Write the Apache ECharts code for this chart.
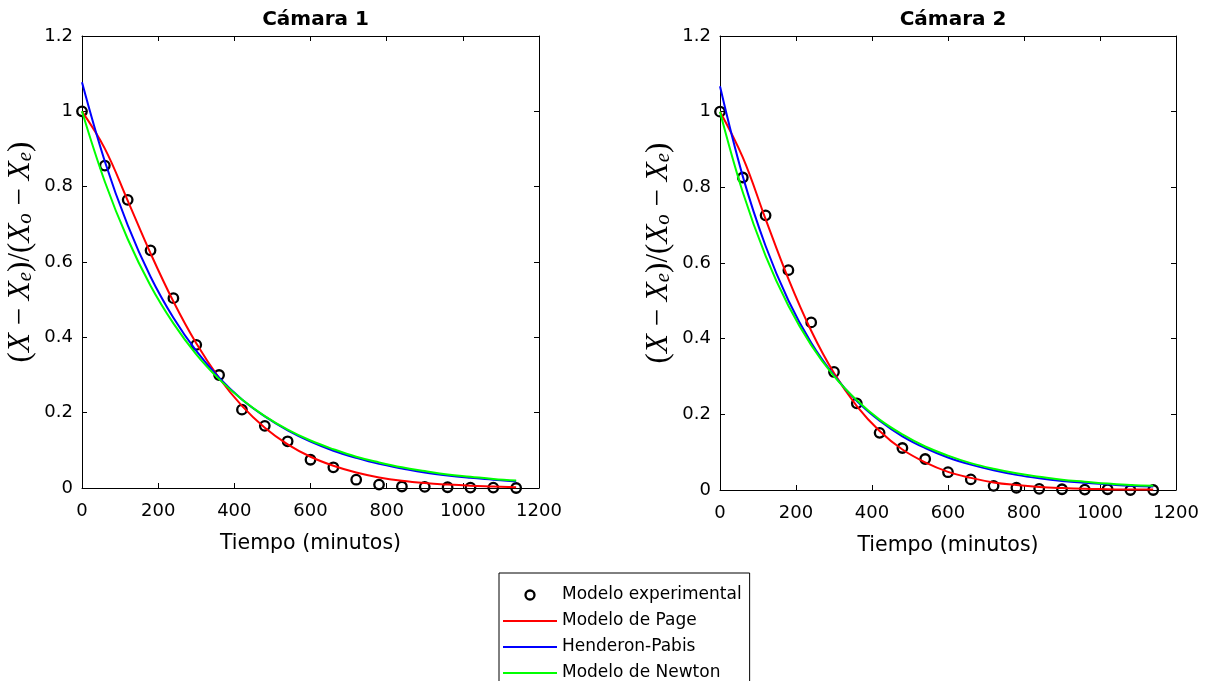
<!DOCTYPE html>
<html>
<head>
<meta charset="utf-8">
<script src="https://cdn.jsdelivr.net/npm/echarts@6/dist/echarts.min.js"></script>
<style>
html,body{margin:0;padding:0;background:#fff;}
#chart{width:1207px;height:681px;}
</style>
</head>
<body>
<div id="chart"></div>
<script>
// ---- data ----
const titles = ['Cámara 1', 'Cámara 2'];
const legendNames = ['Modelo experimental', 'Modelo de Page', 'Henderon-Pabis', 'Modelo de Newton'];
const xTicks = [0, 200, 400, 600, 800, 1000, 1200];
const yTicks = [0, 0.2, 0.4, 0.6, 0.8, 1, 1.2];

const expTime = [0, 60, 120, 180, 240, 300, 360, 420, 480, 540, 600, 660, 720, 780, 840, 900, 960, 1020, 1080, 1140];
const exp1 = [1.000, 0.856, 0.765, 0.631, 0.504, 0.380, 0.300, 0.208, 0.165, 0.124, 0.075, 0.055, 0.022, 0.009, 0.004, 0.003, 0.002, 0.001, 0.001, 0.000];
const exp2 = [1.000, 0.826, 0.726, 0.581, 0.443, 0.312, 0.229, 0.151, 0.111, 0.082, 0.047, 0.028, 0.011, 0.006, 0.003, 0.002, 0.001, 0.002, 0.000, 0.000];

const curveTime = [0, 60, 120, 180, 240, 300, 360, 420, 480, 540, 600, 660, 720, 780, 840, 900, 960, 1020, 1080, 1140];
const page1   = [1.000, 0.901, 0.763, 0.623, 0.495, 0.384, 0.292, 0.218, 0.160, 0.116, 0.083, 0.059, 0.041, 0.028, 0.019, 0.013, 0.009, 0.006, 0.004, 0.002];
const hp1     = [1.077, 0.867, 0.698, 0.561, 0.452, 0.364, 0.293, 0.235, 0.190, 0.153, 0.123, 0.099, 0.080, 0.064, 0.052, 0.041, 0.033, 0.027, 0.022, 0.017];
const newton1 = [1.000, 0.813, 0.661, 0.537, 0.437, 0.355, 0.289, 0.235, 0.191, 0.155, 0.126, 0.103, 0.083, 0.068, 0.055, 0.045, 0.036, 0.030, 0.024, 0.020];
const page2   = [1.000, 0.879, 0.716, 0.558, 0.421, 0.309, 0.222, 0.156, 0.107, 0.073, 0.048, 0.032, 0.020, 0.013, 0.008, 0.005, 0.003, 0.002, 0.001, 0.001];
const hp2     = [1.067, 0.829, 0.645, 0.501, 0.389, 0.303, 0.235, 0.183, 0.142, 0.111, 0.086, 0.067, 0.052, 0.040, 0.031, 0.024, 0.019, 0.015, 0.011, 0.009];
const newton2 = [1.000, 0.787, 0.619, 0.487, 0.383, 0.301, 0.237, 0.186, 0.147, 0.115, 0.091, 0.071, 0.056, 0.044, 0.035, 0.027, 0.022, 0.017, 0.013, 0.011];

const expSets = [exp1, exp2];
const curveSets = [[page1, hp1, newton1], [page2, hp2, newton2]];
const curveColors = ['#ff0000', '#0000ff', '#00ff00'];

// ---- layout ----
const grids = [
  {left: 82, top: 36, width: 457, height: 452},
  {left: 720, top: 36, width: 456, height: 454}
];
const sans = 'DejaVu Sans, Arial, sans-serif';
const serif = 'Liberation Serif, Times New Roman, serif';

const pair = (xs, ys) => xs.map((x, i) => [x, ys[i]]);
const fmt = v => String(Math.round(v * 1000) / 1000);

const xAxes = [], yAxes = [], series = [], titleArr = [];
grids.forEach((g, gi) => {
  const common = {
    type: 'value', gridIndex: gi,
    axisLine: {show: true, onZero: false, lineStyle: {color: '#000', width: 1}},
    axisTick: {show: true, inside: true, length: 5, lineStyle: {color: '#000', width: 1}},
    splitLine: {show: false}
  };
  const xCommon = {min: xTicks[0], max: xTicks[xTicks.length - 1], interval: xTicks[1] - xTicks[0]};
  const yCommon = {min: yTicks[0], max: yTicks[yTicks.length - 1], interval: 0.2};
  xAxes.push(Object.assign({}, common, xCommon, {
    position: 'bottom',
    axisLabel: {color: '#000', fontSize: 18, fontFamily: sans, margin: 14, formatter: fmt},
    name: 'Tiempo (minutos)', nameLocation: 'middle', nameGap: 45,
    nameTextStyle: {color: '#000', fontSize: 20.5, fontFamily: sans}
  }));
  xAxes.push(Object.assign({}, common, xCommon, {position: 'top', axisLabel: {show: false}}));
  yAxes.push(Object.assign({}, common, yCommon, {
    position: 'left',
    axisLabel: {color: '#000', fontSize: 18, fontFamily: sans, margin: 9, formatter: fmt},
    name: '{p|(}{x|X}{p| − }{x|X}{s|e}{p|)/(}{x|X}{s|o}{p| − }{x|X}{s|e}{p|)}',
    nameLocation: 'middle', nameGap: 46, nameRotate: 90,
    nameTextStyle: {
      color: '#000', padding: [0, 0, 0, 20],
      rich: {
        p: {fontFamily: serif, fontSize: 31, color: '#000', lineHeight: 30},
        x: {fontFamily: serif, fontStyle: 'italic', fontSize: 31, color: '#000', lineHeight: 30},
        s: {fontFamily: serif, fontStyle: 'italic', fontSize: 21, color: '#000', lineHeight: 14, verticalAlign: 'bottom'}
      }
    }
  }));
  yAxes.push(Object.assign({}, common, yCommon, {position: 'right', axisLabel: {show: false}}));
  titleArr.push({
    text: titles[gi], left: g.left + g.width / 2, top: 5, textAlign: 'center',
    textStyle: {color: '#000', fontSize: 20, fontWeight: 'bold', fontFamily: sans}
  });
  series.push({
    name: legendNames[0], type: 'scatter', xAxisIndex: gi * 2, yAxisIndex: gi * 2,
    data: pair(expTime, expSets[gi]), symbol: 'circle', symbolSize: 9.5,
    itemStyle: {color: 'rgba(0,0,0,0)', borderColor: '#000', borderWidth: 2.3, opacity: 1},
    z: 2
  });
  curveSets[gi].forEach((vals, ci) => {
    series.push({
      name: legendNames[ci + 1], type: 'line', xAxisIndex: gi * 2, yAxisIndex: gi * 2,
      data: pair(curveTime, vals), symbol: 'none', showSymbol: false, smooth: 0.4,
      lineStyle: {color: curveColors[ci], width: 2}, itemStyle: {color: curveColors[ci]},
      z: 3 + ci
    });
  });
});

const lineIcon = 'path://M0,0 L54,0 L54,2 L0,2 Z';
const option = {
  animation: false,
  backgroundColor: '#fff',
  title: titleArr,
  grid: grids,
  xAxis: xAxes,
  yAxis: yAxes,
  legend: {
    data: legendNames.map((n, i) => i === 0 ? {name: n, itemStyle: {opacity: 1, borderWidth: 2.3, borderColor: '#000'}} : {name: n, icon: lineIcon}),
    orient: 'vertical', left: 499, top: 573, height: 140,
    itemWidth: 54, itemHeight: 9, itemGap: 8,
    padding: [13, 8, 10, 4],
    borderColor: '#000', borderWidth: 1, backgroundColor: '#fff',
    textStyle: {color: '#000', fontSize: 17, fontFamily: sans, lineHeight: 18},
    selectedMode: false
  },
  series: series
};

const chart = echarts.init(document.getElementById('chart'), null, {renderer: 'canvas'});
chart.setOption(option);
</script>
</body>
</html>
